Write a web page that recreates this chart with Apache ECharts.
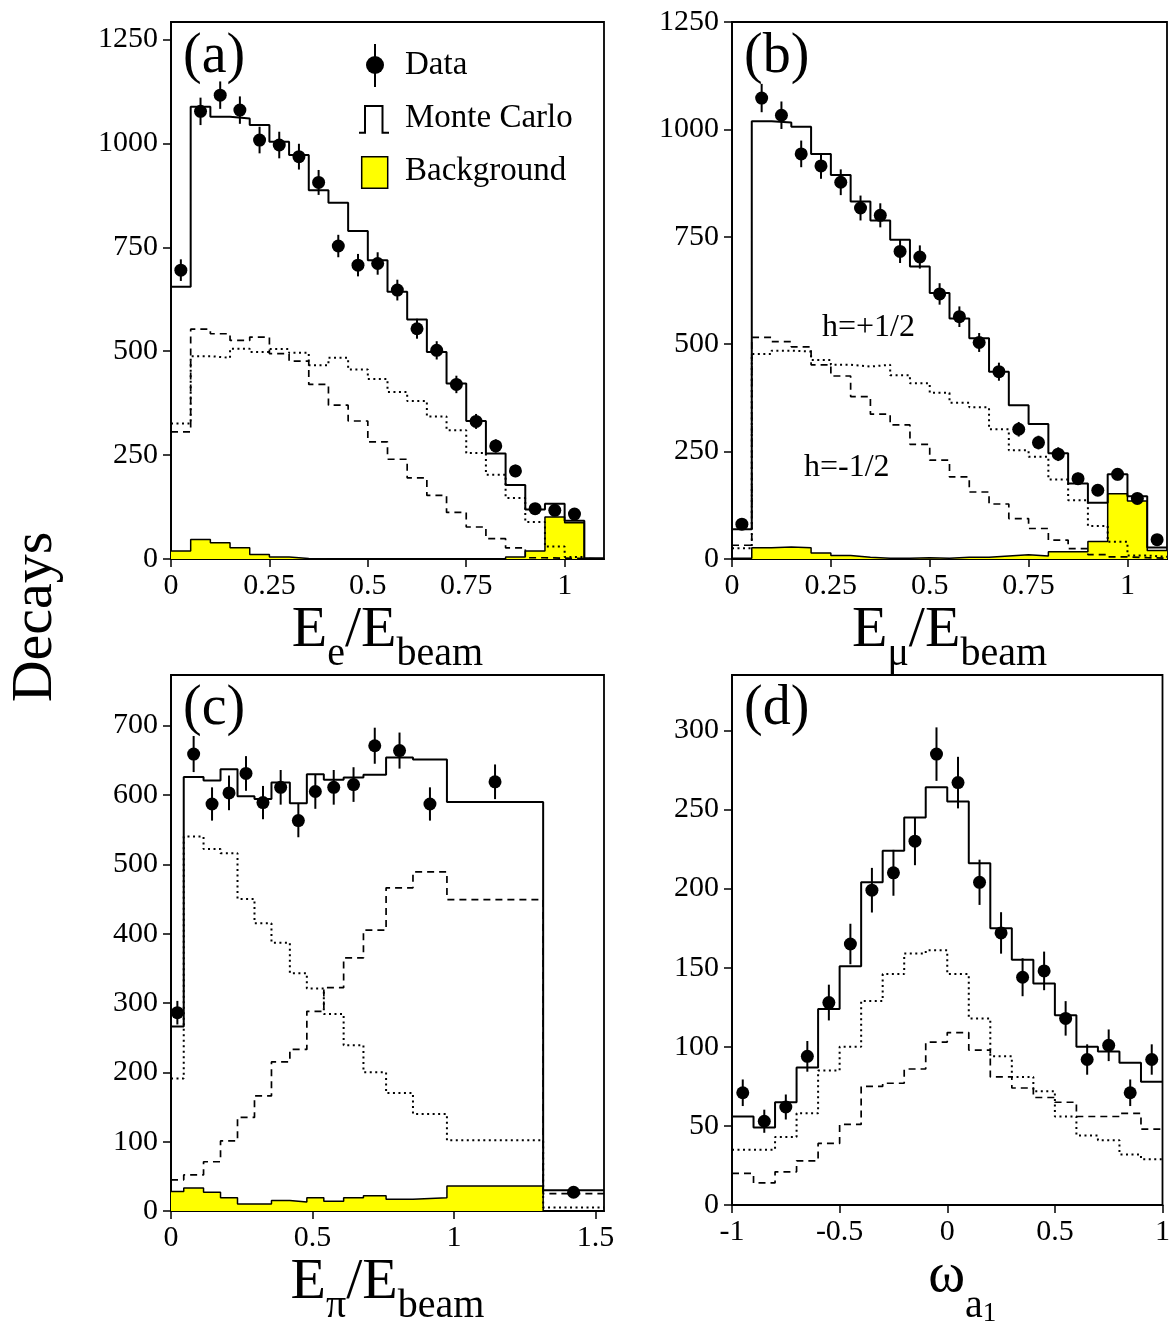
<!DOCTYPE html>
<html><head><meta charset="utf-8">
<script src="https://cdn.jsdelivr.net/npm/echarts@6/dist/echarts.min.js"></script>
<style>html,body{margin:0;padding:0;background:#fff}#c{width:1173px;height:1328px}</style>
</head><body><div id="c"></div>
<script>
const FONT = '"Liberation Serif","Times New Roman",Times,serif';

// ---------- Panel (a): electron ----------
const edgesA = [0,0.05,0.1,0.15,0.2,0.25,0.3,0.35,0.4,0.45,0.5,0.55,0.6,0.65,0.7,0.75,0.8,0.85,0.9,0.95,1.0,1.05,1.1];
const mcA   = [655,1088,1064,1060,1044,1004,972,887,857,789,719,643,576,498,422,332,254,178,119,133,92,2];
const dataA = [695,1077,1116,1080,1008,996,968,906,753,707,711,647,554,502,420,331,272,212,121,117,108];
const errA  = [26,33,33,33,32,32,31,30,27,27,27,25,24,22,21,18,16,15,11,11,10];
const dashA = [306,553,542,526,534,494,476,420,370,332,282,240,195,153,112,77,49,27,3,2,1,0];
const dotA  = [326,488,484,506,498,505,496,466,484,456,433,402,380,343,310,255,203,147,89,30,5,0];
const bgA   = [19,47,39,27,11,5,1,0,0,0,0,0,0,0,0,0,0,5,19,101,87,0];

// ---------- Panel (b): muon ----------
const edgesB = [0,0.05,0.1,0.15,0.2,0.25,0.3,0.35,0.4,0.45,0.5,0.55,0.6,0.65,0.7,0.75,0.8,0.85,0.9,0.95,1.0,1.05,1.1];
const mcB   = [69,1019,1016,1006,943,894,832,788,743,681,619,560,514,436,358,314,246,176,131,197,146,27];
const dataB = [81,1073,1033,943,915,877,817,800,716,703,617,564,504,436,302,271,244,187,160,197,141,45];
const errB  = [9,33,32,31,30,30,29,28,27,27,25,24,22,21,17,16,16,14,13,14,12,7];
const dashB = [32,516,506,494,452,426,378,337,312,267,230,191,156,128,94,71,44,24,10,5,3,2];
const dotB  = [25,477,485,483,463,452,448,452,428,409,387,364,353,302,253,238,185,137,77,40,8,5];
const bgB   = [2,26,28,26,14,8,4,2,2,3,2,4,4,7,10,7,17,17,41,152,135,20];

// ---------- Panel (c): pion ----------
const edgesC = [0,0.045,0.115,0.175,0.235,0.295,0.355,0.42,0.48,0.54,0.61,0.68,0.76,0.855,0.975,1.315,1.53];
const mcC   = [266,626,621,637,598,594,618,588,630,622,625,629,654,651,590,30];
const dataC = [286,659,587,603,631,589,611,563,605,611,615,671,664,587,619,27];
const errC  = [17,26,24,25,25,24,25,24,25,25,25,26,26,24,25,5];
const dashC = [45,52,71,101,135,166,215,233,288,322,365,405,466,489,449,25];
const dotC  = [191,540,522,516,450,415,387,343,321,284,239,200,170,140,102,5];
const bgC   = [28,33,27,19,10,10,15,13,19,14,19,22,17,19,36,0];

// ---------- Panel (d): a1 ----------
const edgesD = [-1,-0.9,-0.8,-0.7,-0.6,-0.5,-0.4,-0.3,-0.2,-0.1,0,0.1,0.2,0.3,0.4,0.5,0.6,0.7,0.8,0.9,1];
const mcD   = [56,49,65,87,124,151,204,224,245,264,255,216,175,155,140,120,100,97,90,78];
const dataD = [71,53,62,94,128,165,199,210,230,285,267,204,172,144,148,118,92,101,71,92];
const errD  = [8.4,7.3,7.9,9.7,11.3,12.8,14.1,14.5,15.2,16.9,16.3,14.3,13.1,12.0,12.2,10.9,9.6,10.0,8.4,9.6];
const dashD = [20,14,21,28,39,51,75,77,86,103,109,98,81,74,68,65,56,56,58,48];
const dotD  = [35,35,43,58,85,100,129,146,159,161,146,118,94,81,72,56,44,41,32,29];

// ---------- Ticks ----------
const xTicksAB = [0,0.25,0.5,0.75,1];
const xTicksC  = [0,0.5,1,1.5];
const xTicksD  = [-1,-0.5,0,0.5,1];
const yTicksAB = [0,250,500,750,1000,1250];
const yTicksC  = [0,100,200,300,400,500,600,700];
const yTicksD  = [0,50,100,150,200,250,300];

function steps(edges, vals){ const o=[]; for(let i=0;i<vals.length;i++){ o.push([edges[i],vals[i]]); o.push([edges[i+1],vals[i]]);} return o; }
function pts(edges, vals){ return vals.map((v,i)=>[(edges[i]+edges[i+1])/2, v]); }
function errPts(edges, vals, e){ return vals.map((v,i)=>[(edges[i]+edges[i+1])/2, v, e[i]]); }

const grids = [
  {left:171, top:22, width:433, height:537},
  {left:732, top:22, width:435, height:537},
  {left:171, top:675, width:433, height:536},
  {left:732, top:675, width:435, height:536}
];

const richE = {
  m:{fontSize:58, fontFamily:FONT, color:'#000', verticalAlign:'bottom', padding:[0,0,15,0]},
  s:{fontSize:40, fontFamily:FONT, color:'#000', verticalAlign:'bottom'}
};
const richW = {
  w:{fontSize:56, fontFamily:FONT, color:'#000', verticalAlign:'bottom', padding:[0,0,23,0]},
  a:{fontSize:40, fontFamily:FONT, color:'#000', verticalAlign:'bottom', padding:[0,0,1,0]},
  n:{fontSize:27, fontFamily:FONT, color:'#000', verticalAlign:'bottom'}
};

function xAx(gi, min, max, ticks, name, rich, gap, pad){
  return {type:'value', gridIndex:gi, min:min, max:max,
    axisLine:{show:true, onZero:false, lineStyle:{color:'#000', width:1.8}},
    axisTick:{show:true, inside:false, length:8, customValues:ticks, lineStyle:{color:'#000', width:1.5}},
    axisLabel:{customValues:ticks, formatter:v=>String(v), color:'#000', fontSize:30, fontFamily:FONT, margin:12},
    splitLine:{show:false},
    name:name, nameLocation:'middle', nameGap:gap,
    nameTextStyle:{rich:rich, padding:pad||0}
  };
}
function yAx(gi, max, ticks){
  return {type:'value', gridIndex:gi, min:0, max:max,
    axisLine:{show:true, onZero:false, lineStyle:{color:'#000', width:1.8}},
    axisTick:{show:true, inside:false, length:8, customValues:ticks, lineStyle:{color:'#000', width:1.5}},
    axisLabel:{customValues:ticks, formatter:v=>String(v), color:'#000', fontSize:30, fontFamily:FONT, margin:13},
    splitLine:{show:false}
  };
}

function panelSeries(gi, edges, mc, data, err, dash, dot, bg){
  const s = [];
  if (bg) s.push({type:'line', name:'Background', xAxisIndex:gi, yAxisIndex:gi, data:steps(edges,bg), symbol:'none',
    lineStyle:{color:'#000', width:1.5}, areaStyle:{color:'#ffff00', opacity:1}, z:2});
  s.push({type:'line', name:'h=-1/2', xAxisIndex:gi, yAxisIndex:gi, data:steps(edges,dash), symbol:'none',
    lineStyle:{color:'#000', width:1.7, type:[7,5]}, z:3});
  s.push({type:'line', name:'h=+1/2', xAxisIndex:gi, yAxisIndex:gi, data:steps(edges,dot), symbol:'none',
    lineStyle:{color:'#000', width:2, type:[2,3.5]}, z:3});
  s.push({type:'line', name:'Monte Carlo', xAxisIndex:gi, yAxisIndex:gi, data:steps(edges,mc), symbol:'none',
    lineStyle:{color:'#000', width:2}, z:4});
  s.push({type:'custom', name:'Data errors', xAxisIndex:gi, yAxisIndex:gi, data:errPts(edges,data,err),
    encode:{x:0, y:1}, z:5,
    renderItem:(params, api)=>{
      const x=api.value(0), y=api.value(1), e=api.value(2);
      const p1=api.coord([x,y-e]), p2=api.coord([x,y+e]);
      return {type:'line', shape:{x1:p1[0],y1:p1[1],x2:p2[0],y2:p2[1]}, style:{stroke:'#000', lineWidth:2}};
    }});
  s.push({type:'scatter', name:'Data', xAxisIndex:gi, yAxisIndex:gi, data:pts(edges,data), symbol:'circle', symbolSize:13,
    itemStyle:{color:'#000', opacity:1}, z:6});
  return s;
}

function txt(x, y, text, size, extra){
  return Object.assign({type:'text', x:x, y:y, z:20, style:{text:text, fontSize:size, fontFamily:FONT, fill:'#000', align:'left', verticalAlign:'middle'}}, extra||{});
}

const option = {
  animation:false,
  backgroundColor:'#fff',
  grid: grids.map(g=>Object.assign({show:true, borderColor:'#000', borderWidth:1.8, backgroundColor:'transparent'}, g)),
  xAxis:[
    xAx(0, 0, 1.1, xTicksAB, '{m|E}{s|e}{m|/E}{s|beam}', richE, 37),
    xAx(1, 0, 1.1, xTicksAB, '{m|E}{s|μ}{m|/E}{s|beam}', richE, 37),
    xAx(2, 0, 1.53, xTicksC, '{m|E}{s|π}{m|/E}{s|beam}', richE, 37),
    xAx(3, -1, 1, xTicksD, '{w|ω}{a|a}{n|1}', richW, 39, [0,0,0,30])
  ],
  yAxis:[
    yAx(0, 1292, yTicksAB),
    yAx(1, 1250, yTicksAB),
    yAx(2, 773, yTicksC),
    yAx(3, 335, yTicksD)
  ],
  series:[].concat(
    panelSeries(0, edgesA, mcA, dataA, errA, dashA, dotA, bgA),
    panelSeries(1, edgesB, mcB, dataB, errB, dashB, dotB, bgB),
    panelSeries(2, edgesC, mcC, dataC, errC, dashC, dotC, bgC),
    panelSeries(3, edgesD, mcD, dataD, errD, dashD, dotD, null)
  ),
  graphic:[
    txt(36, 617, 'Decays', 58, {rotation:Math.PI/2, style:{text:'Decays', fontSize:58, fontFamily:FONT, fill:'#000', align:'center', verticalAlign:'middle'}}),
    txt(183, 57, '(a)', 56),
    txt(744, 57, '(b)', 56),
    txt(183, 709, '(c)', 56),
    txt(744, 709, '(d)', 56),
    // legend
    {type:'line', z:20, shape:{x1:375, y1:44, x2:375, y2:87}, style:{stroke:'#000', lineWidth:2}},
    {type:'circle', z:21, shape:{cx:375, cy:65, r:9}, style:{fill:'#000'}},
    txt(405, 65.5, 'Data', 33),
    {type:'polyline', z:20, shape:{points:[[359,132.7],[365,132.7],[365,106],[382.5,106],[382.5,132.7],[389,132.7]]}, style:{stroke:'#000', lineWidth:2, fill:null}},
    txt(405, 118.8, 'Monte Carlo', 33),
    {type:'rect', z:20, shape:{x:361.7, y:156.7, width:26, height:31.6}, style:{fill:'#ffff00', stroke:'#000', lineWidth:1.5}},
    txt(405, 171.5, 'Background', 33),
    txt(822, 327.4, 'h=+1/2', 32),
    txt(804, 467.4, 'h=-1/2', 32)
  ]
};

const chart = echarts.init(document.getElementById('c'), null, {renderer:'canvas'});
chart.setOption(option);
</script>
</body></html>
